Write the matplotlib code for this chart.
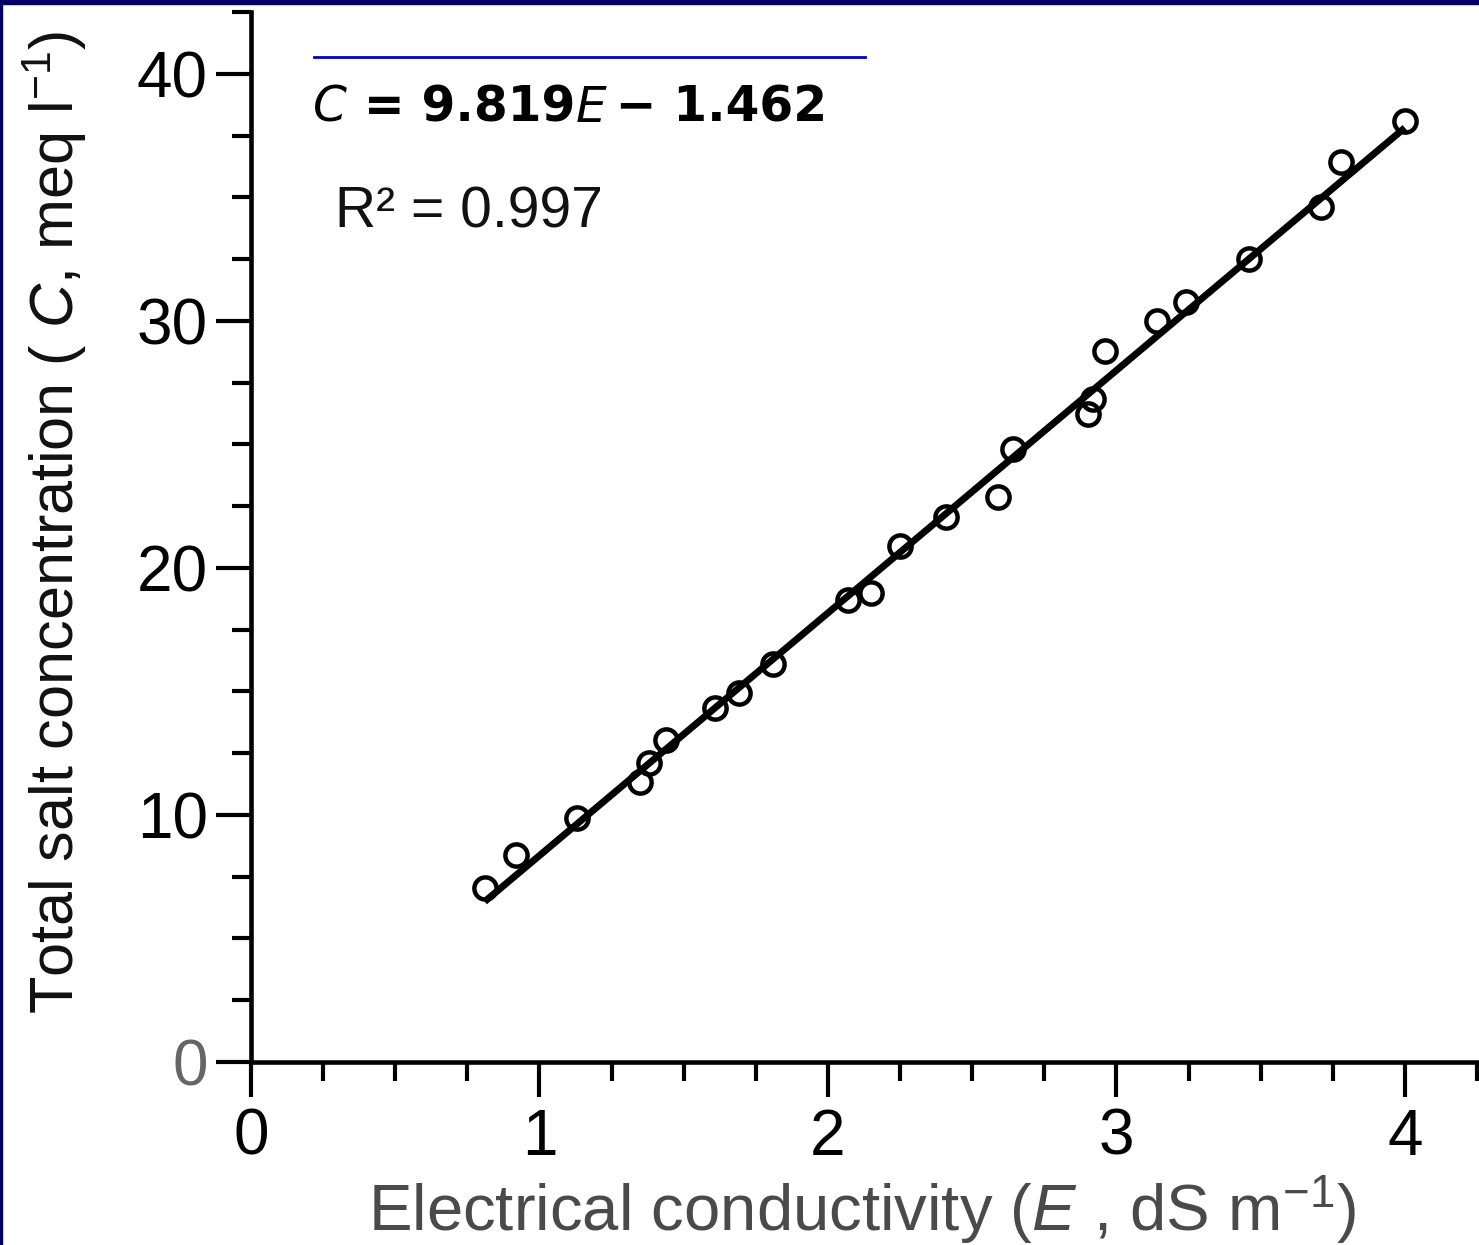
import matplotlib
matplotlib.use('Agg')
import matplotlib.pyplot as plt
import numpy as np
from matplotlib.patches import Rectangle
from matplotlib.ticker import MultipleLocator

plt.rcParams['font.family'] = 'Liberation Sans'
plt.rcParams['mathtext.fontset'] = 'custom'
plt.rcParams['mathtext.rm'] = 'Liberation Sans'
plt.rcParams['mathtext.it'] = 'Liberation Sans:italic'

# Measured points: electrical conductivity (dS/m) vs total salt concentration (meq/l)
ec = [0.81, 0.92, 1.13, 1.35, 1.38, 1.44, 1.61, 1.69, 1.81, 2.07, 2.15, 2.25,
      2.41, 2.59, 2.64, 2.90, 2.92, 2.96, 3.14, 3.24, 3.46, 3.71, 3.78, 4.00]
conc = [7.05, 8.39, 9.89, 11.35, 12.11, 13.05, 14.34, 14.95, 16.09, 18.72, 19.00, 20.87,
        22.04, 22.85, 24.80, 26.22, 26.82, 28.77, 29.98, 30.75, 32.50, 34.60, 36.43, 38.09]

# Regression line C = 9.819E - 1.462
slope = 9.819
intercept = -1.462
fit_range = [0.81, 4.0]

x_ticks = [0, 1, 2, 3, 4]
y_ticks = [0, 10, 20, 30, 40]

W, H = 1479, 1245
fig = plt.figure(figsize=(W / 100, H / 100), dpi=100)
ax = fig.add_axes([251 / W, (H - 1062) / H, 1226 / W, 1050 / H])

# fitted line
fx = np.array(fit_range)
ax.plot(fx, slope * fx + intercept, color='black', lw=5, solid_capstyle='butt', zorder=2)
# open circles
ax.plot(ec, conc, linestyle='none', marker='o', ms=16, mew=3.2,
        mfc='none', mec='black', zorder=3)

ax.set_xlim(0, 4.25)
ax.set_ylim(0, 42.5)
ax.set_xticks(x_ticks)
ax.set_yticks(y_ticks)
ax.xaxis.set_minor_locator(MultipleLocator(0.25))
ax.yaxis.set_minor_locator(MultipleLocator(2.5))

for s in ['top', 'right']:
    ax.spines[s].set_visible(False)
for s in ['left', 'bottom']:
    ax.spines[s].set_linewidth(3.3)
    ax.spines[s].set_color('black')

ax.tick_params(which='major', direction='out', length=25, width=3,
               labelsize=46, colors='black')
ax.tick_params(which='minor', direction='out', length=14, width=3)
ax.tick_params(axis='y', which='major', pad=6)
ax.tick_params(axis='x', which='major', pad=8)
ax.get_yticklabels()[0].set_color('#666666')
ax.patch.set_alpha(0)

# axis labels
fig.text(55 / W, 1 - 522 / H, r'Total salt concentration ( $\mathit{C}$, meq l$^{-1}$)',
         rotation=90, ha='center', va='center', fontsize=44, color='#111111')
fig.text(862 / W, 1 - 1210 / H, r'Electrical conductivity ($\mathit{E}$ , dS m$^{-1}$)',
         ha='center', va='center', fontsize=47, color='#4a4a4a')

# regression equation, built from pieces so that C and E are italic
eq_size = 35
t1 = fig.text(313 / W, 1 - 122 / H, 'C', family='DejaVu Sans', style='italic',
              fontsize=eq_size, va='baseline', ha='left')
t2 = ax.annotate(' = 9.819', xy=(1, 0), xycoords=t1, family='DejaVu Sans',
                 weight='bold', fontsize=eq_size, va='bottom', ha='left',
                 annotation_clip=False)
t3 = ax.annotate('E', xy=(1, 0), xycoords=t2, family='DejaVu Sans', style='italic',
                 fontsize=eq_size, va='bottom', ha='left', annotation_clip=False)
t4 = ax.annotate('\u2009\u2212 1.462', xy=(1, 0), xycoords=t3, family='DejaVu Sans',
                 weight='bold', fontsize=eq_size, va='bottom', ha='left',
                 annotation_clip=False)
fig.add_artist(plt.Line2D([314 / W, 865 / W], [1 - 57 / H, 1 - 57 / H],
                          color='#0000cc', lw=2))

fig.text(335 / W, 1 - 227 / H, 'R\u00b2 = 0.997', fontsize=41, va='baseline',
         ha='left', color='#111111')

# navy frame of the slide
fig.patches.append(Rectangle((0, 1 - 4 / H), 1, 4 / H, transform=fig.transFigure,
                             color='#000066', zorder=10))
fig.patches.append(Rectangle((0, 0), 2 / W, 1, transform=fig.transFigure,
                             color='#000066', zorder=10))

plt.savefig('out.png', dpi=100)
